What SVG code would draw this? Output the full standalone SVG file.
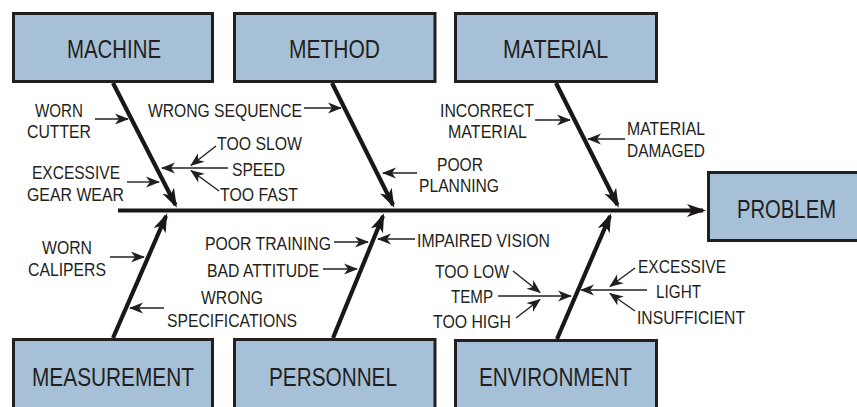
<svg xmlns="http://www.w3.org/2000/svg" width="857" height="407" viewBox="0 0 857 407">
<style>
.box{fill:#a6c1d7;stroke:#231f20;stroke-width:3}
.big{font-family:"Liberation Sans",Arial,sans-serif;font-size:26px;fill:#231f20}
.lbl{font-family:"Liberation Sans",Arial,sans-serif;font-size:19px;fill:#231f20}
.bone{stroke:#1a1718;stroke-width:4.2;fill:none}
.thin{stroke:#231f20;stroke-width:1.4;fill:none}
</style>
<defs>
<marker id="bigArrow" markerUnits="userSpaceOnUse" viewBox="-22 -10 30 20" markerWidth="30" markerHeight="20" refX="0" refY="0" orient="auto">
<path d="M3,0 L-16,-6.5 L-11,0 L-16,6.5 Z" fill="#1a1718"/>
</marker>
<marker id="smallArrow" markerUnits="userSpaceOnUse" viewBox="-18 -8 22 16" markerWidth="22" markerHeight="16" refX="0" refY="0" orient="auto">
<path d="M1,0 L-13,-5.5 L-9,0 L-13,5.5 Z" fill="#231f20"/>
</marker>
</defs>

<g id="connectors">
<line class="bone" x1="118" y1="210.5" x2="703" y2="210.5" marker-end="url(#bigArrow)"/>
<line class="bone" x1="113" y1="83" x2="175.5" y2="205" marker-end="url(#bigArrow)"/>
<line class="bone" x1="332" y1="83" x2="393" y2="205" marker-end="url(#bigArrow)"/>
<line class="bone" x1="556" y1="83" x2="617.5" y2="205" marker-end="url(#bigArrow)"/>
<line class="bone" x1="113" y1="338" x2="166" y2="216" marker-end="url(#bigArrow)"/>
<line class="bone" x1="333" y1="338" x2="383" y2="216" marker-end="url(#bigArrow)"/>
<line class="bone" x1="557" y1="339" x2="610" y2="216" marker-end="url(#bigArrow)"/>

<line class="thin" x1="95" y1="119" x2="128" y2="119" marker-end="url(#smallArrow)"/>
<line class="thin" x1="127" y1="182" x2="159" y2="182" marker-end="url(#smallArrow)"/>
<line class="thin" x1="228" y1="168" x2="162" y2="168" marker-end="url(#smallArrow)"/>
<line class="thin" x1="216" y1="146" x2="191" y2="165.5" marker-end="url(#smallArrow)"/>
<line class="thin" x1="219" y1="191" x2="191" y2="170.5" marker-end="url(#smallArrow)"/>
<line class="thin" x1="304" y1="108" x2="341" y2="108" marker-end="url(#smallArrow)"/>
<line class="thin" x1="417" y1="173" x2="383" y2="173" marker-end="url(#smallArrow)"/>
<line class="thin" x1="535" y1="120" x2="570" y2="120" marker-end="url(#smallArrow)"/>
<line class="thin" x1="625" y1="139" x2="588" y2="139" marker-end="url(#smallArrow)"/>

<line class="thin" x1="110" y1="257" x2="144" y2="257" marker-end="url(#smallArrow)"/>
<line class="thin" x1="164" y1="308" x2="130" y2="308" marker-end="url(#smallArrow)"/>
<line class="thin" x1="334" y1="242" x2="368" y2="242" marker-end="url(#smallArrow)"/>
<line class="thin" x1="323" y1="269" x2="357" y2="269" marker-end="url(#smallArrow)"/>
<line class="thin" x1="415" y1="239" x2="378" y2="239" marker-end="url(#smallArrow)"/>
<line class="thin" x1="498" y1="296" x2="571" y2="296" marker-end="url(#smallArrow)"/>
<line class="thin" x1="513" y1="271" x2="540" y2="292.5" marker-end="url(#smallArrow)"/>
<line class="thin" x1="516" y1="318" x2="540" y2="299.5" marker-end="url(#smallArrow)"/>
<line class="thin" x1="647" y1="290" x2="581" y2="290" marker-end="url(#smallArrow)"/>
<line class="thin" x1="635" y1="268" x2="610" y2="286.5" marker-end="url(#smallArrow)"/>
<line class="thin" x1="635" y1="311" x2="610" y2="293.5" marker-end="url(#smallArrow)"/>
</g>

<g id="machine">
<rect class="box" x="13.5" y="13.5" width="199" height="68"/>
<text class="big" x="67" y="58" textLength="94" lengthAdjust="spacingAndGlyphs">MACHINE</text>
</g>
<g id="method">
<rect class="box" x="234.5" y="13.5" width="200.5" height="68"/>
<text class="big" x="289" y="58" textLength="91" lengthAdjust="spacingAndGlyphs">METHOD</text>
</g>
<g id="material">
<rect class="box" x="455.5" y="13.5" width="201" height="68"/>
<text class="big" x="503" y="58" textLength="105" lengthAdjust="spacingAndGlyphs">MATERIAL</text>
</g>
<g id="problem">
<rect class="box" x="708.5" y="172.5" width="150" height="68"/>
<text class="big" x="737" y="218" textLength="99" lengthAdjust="spacingAndGlyphs">PROBLEM</text>
</g>
<g id="measurement">
<rect class="box" x="13.5" y="339.5" width="199" height="80"/>
<text class="big" x="32" y="386" textLength="162" lengthAdjust="spacingAndGlyphs">MEASUREMENT</text>
</g>
<g id="personnel">
<rect class="box" x="234.5" y="339.5" width="200.5" height="80"/>
<text class="big" x="269" y="386" textLength="128" lengthAdjust="spacingAndGlyphs">PERSONNEL</text>
</g>
<g id="environment">
<rect class="box" x="455.5" y="340.5" width="201" height="80"/>
<text class="big" x="479" y="386" textLength="153" lengthAdjust="spacingAndGlyphs">ENVIRONMENT</text>
</g>

<g id="labels">
<text class="lbl" x="35" y="117" textLength="48" lengthAdjust="spacingAndGlyphs">WORN</text>
<text class="lbl" x="27" y="138" textLength="64" lengthAdjust="spacingAndGlyphs">CUTTER</text>
<text class="lbl" x="32" y="179" textLength="88" lengthAdjust="spacingAndGlyphs">EXCESSIVE</text>
<text class="lbl" x="27" y="201" textLength="97" lengthAdjust="spacingAndGlyphs">GEAR WEAR</text>
<text class="lbl" x="148" y="117" textLength="154" lengthAdjust="spacingAndGlyphs">WRONG SEQUENCE</text>
<text class="lbl" x="217" y="150" textLength="85" lengthAdjust="spacingAndGlyphs">TOO SLOW</text>
<text class="lbl" x="232" y="176" textLength="53" lengthAdjust="spacingAndGlyphs">SPEED</text>
<text class="lbl" x="220" y="201" textLength="78" lengthAdjust="spacingAndGlyphs">TOO FAST</text>
<text class="lbl" x="437" y="171" textLength="46" lengthAdjust="spacingAndGlyphs">POOR</text>
<text class="lbl" x="419" y="192" textLength="80" lengthAdjust="spacingAndGlyphs">PLANNING</text>
<text class="lbl" x="440" y="117" textLength="94" lengthAdjust="spacingAndGlyphs">INCORRECT</text>
<text class="lbl" x="448" y="138" textLength="79" lengthAdjust="spacingAndGlyphs">MATERIAL</text>
<text class="lbl" x="627" y="135" textLength="78" lengthAdjust="spacingAndGlyphs">MATERIAL</text>
<text class="lbl" x="627" y="157" textLength="78" lengthAdjust="spacingAndGlyphs">DAMAGED</text>

<text class="lbl" x="42" y="254" textLength="50" lengthAdjust="spacingAndGlyphs">WORN</text>
<text class="lbl" x="28" y="276" textLength="78" lengthAdjust="spacingAndGlyphs">CALIPERS</text>
<text class="lbl" x="205" y="250" textLength="126" lengthAdjust="spacingAndGlyphs">POOR TRAINING</text>
<text class="lbl" x="207" y="277" textLength="112" lengthAdjust="spacingAndGlyphs">BAD ATTITUDE</text>
<text class="lbl" x="201" y="304" textLength="62" lengthAdjust="spacingAndGlyphs">WRONG</text>
<text class="lbl" x="167" y="327" textLength="130" lengthAdjust="spacingAndGlyphs">SPECIFICATIONS</text>
<text class="lbl" x="417" y="247" textLength="133" lengthAdjust="spacingAndGlyphs">IMPAIRED VISION</text>
<text class="lbl" x="435" y="278" textLength="74" lengthAdjust="spacingAndGlyphs">TOO LOW</text>
<text class="lbl" x="451" y="303" textLength="42" lengthAdjust="spacingAndGlyphs">TEMP</text>
<text class="lbl" x="433" y="328" textLength="78" lengthAdjust="spacingAndGlyphs">TOO HIGH</text>
<text class="lbl" x="638" y="273" textLength="88" lengthAdjust="spacingAndGlyphs">EXCESSIVE</text>
<text class="lbl" x="656" y="298" textLength="45" lengthAdjust="spacingAndGlyphs">LIGHT</text>
<text class="lbl" x="637" y="324" textLength="108" lengthAdjust="spacingAndGlyphs">INSUFFICIENT</text>
</g>
</svg>
